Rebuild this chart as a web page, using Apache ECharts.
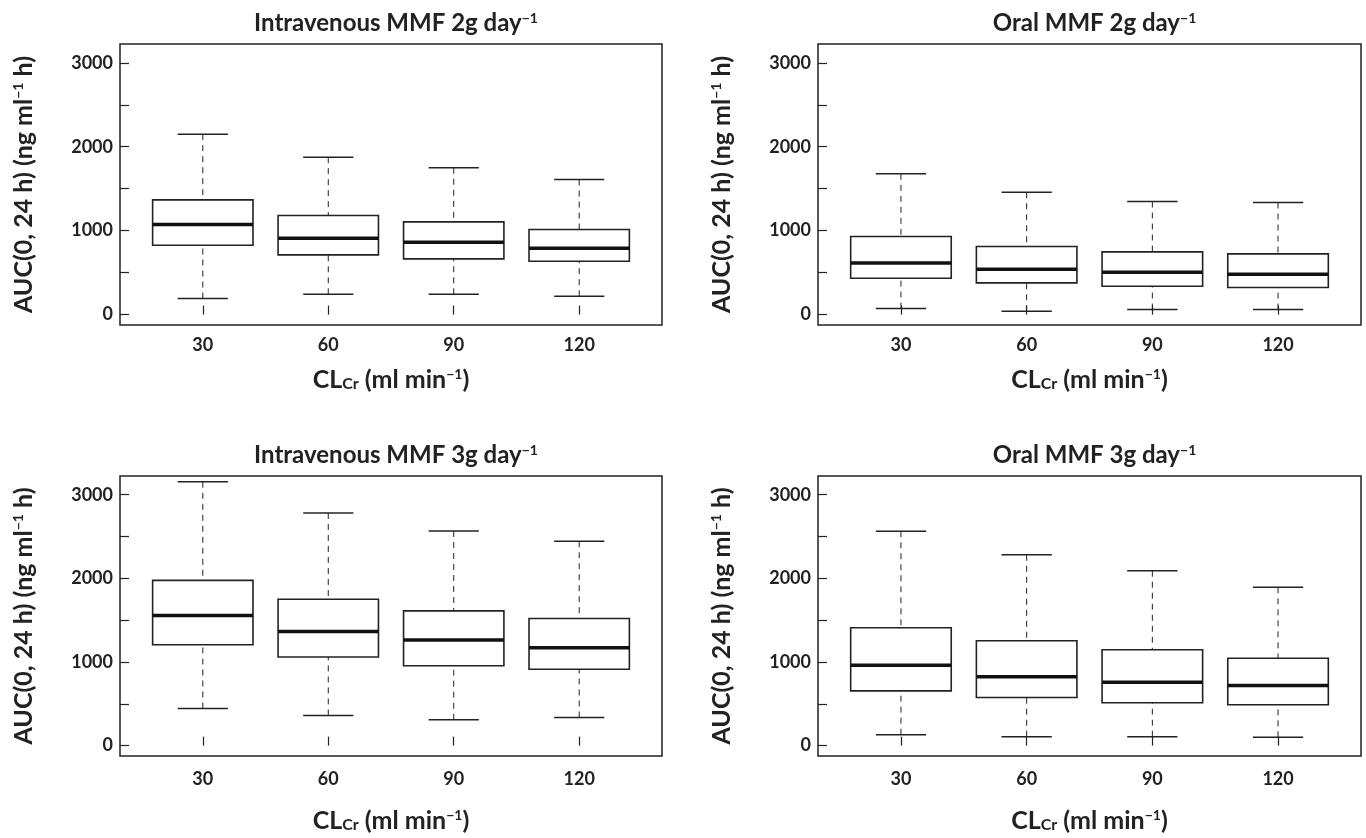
<!DOCTYPE html>
<html>
<head>
<meta charset="utf-8">
<script src="https://cdn.jsdelivr.net/npm/echarts@6/dist/echarts.min.js"></script>
<style>
  html, body { margin: 0; padding: 0; background: #fff; }
  #chart { width: 1366px; height: 838px; }
</style>
</head>
<body>
<div id="chart"></div>
<script>
// CLcr groups (ml/min)
var clcr = [30, 60, 90, 120];

// each row: [lower whisker, Q1, median, Q3, upper whisker]
var iv2g = [
  [191, 827, 1073, 1367, 2150],
  [242, 711, 910, 1180, 1876],
  [242, 664, 862, 1105, 1749],
  [219, 636, 791, 1013, 1609]
];
var oral2g = [
  [72, 433, 616, 930, 1677],
  [40, 378, 540, 811, 1458],
  [60, 338, 505, 747, 1347],
  [60, 322, 481, 723, 1335]
];
var iv3g = [
  [444, 1206, 1556, 1976, 3155],
  [361, 1059, 1365, 1750, 2782],
  [310, 956, 1262, 1611, 2567],
  [337, 913, 1171, 1520, 2444]
];
var oral3g = [
  [131, 655, 960, 1409, 2563],
  [107, 575, 825, 1254, 2282],
  [107, 512, 758, 1147, 2091],
  [99, 488, 718, 1044, 1893]
];

var yTicks = [0, 500, 1000, 1500, 2000, 2500, 3000];
var yLabels = [0, 1000, 2000, 3000];

var titles = [
  'Intravenous MMF 2g day{sup|−1}',
  'Oral MMF 2g day{sup|−1}',
  'Intravenous MMF 3g day{sup|−1}',
  'Oral MMF 3g day{sup|−1}'
];
var panels = [iv2g, oral2g, iv3g, oral3g];

var font = 'Lato';
var ink = '#222';

// panel frames (px)
var grids = [
  { left: 120, top: 44, width: 542, height: 281 },
  { left: 818, top: 44, width: 543, height: 281 },
  { left: 120, top: 476, width: 542, height: 280 },
  { left: 818, top: 476, width: 543, height: 280 }
];

var nameRich = {
  b: { fontFamily: font, fontWeight: 'bold', fontSize: 25, color: ink },
  sub: { fontFamily: font, fontWeight: 'bold', fontSize: 16, color: ink, verticalAlign: 'bottom', lineHeight: 16 },
  sup: { fontFamily: font, fontWeight: 'bold', fontSize: 14, color: ink, verticalAlign: 'top', lineHeight: 14 }
};

function renderBox(params, api) {
  var x = api.value(0);
  var pMin = api.coord([x, api.value(1)]);
  var pQ1 = api.coord([x, api.value(2)]);
  var pMed = api.coord([x, api.value(3)]);
  var pQ3 = api.coord([x, api.value(4)]);
  var pMax = api.coord([x, api.value(5)]);
  var bw = api.size([24, 0])[0];
  var cw = bw / 2;
  var cx = pMed[0];
  var dashed = { stroke: ink, lineWidth: 1, lineDash: [6, 5] };
  var solid = { stroke: ink, lineWidth: 1.5 };
  return {
    type: 'group',
    children: [
      { type: 'line', shape: { x1: cx, y1: pMax[1], x2: cx, y2: pQ3[1] }, style: dashed },
      { type: 'line', shape: { x1: cx, y1: pMin[1], x2: cx, y2: pQ1[1] }, style: dashed },
      { type: 'line', shape: { x1: cx - cw / 2, y1: pMax[1], x2: cx + cw / 2, y2: pMax[1] }, style: solid },
      { type: 'line', shape: { x1: cx - cw / 2, y1: pMin[1], x2: cx + cw / 2, y2: pMin[1] }, style: solid },
      { type: 'rect', shape: { x: cx - bw / 2, y: pQ3[1], width: bw, height: pQ1[1] - pQ3[1] },
        style: { fill: '#fff', stroke: ink, lineWidth: 1.6 } },
      { type: 'line', shape: { x1: cx - bw / 2, y1: pMed[1], x2: cx + bw / 2, y2: pMed[1] },
        style: { stroke: '#111', lineWidth: 3.5 } }
    ]
  };
}

var option = {
  animation: false,
  backgroundColor: '#fff',
  title: [],
  grid: [],
  xAxis: [],
  yAxis: [],
  series: []
};

panels.forEach(function (rows, i) {
  var g = grids[i];
  var bottomRow = i >= 2;
  option.title.push({
    text: titles[i],
    left: g.left + g.width / 2,
    top: g.top - 38,
    textAlign: 'center',
    textStyle: {
      fontFamily: font, fontWeight: 'bold', fontSize: 24, color: ink,
      rich: {
        sup: { fontFamily: font, fontWeight: 'bold', fontSize: 14, color: ink, verticalAlign: 'top', lineHeight: 14 }
      }
    }
  });
  option.grid.push({
    left: g.left, top: g.top, width: g.width, height: g.height,
    show: true, borderColor: ink, borderWidth: 1.5, backgroundColor: 'transparent',
    outerBoundsMode: 'none'
  });
  option.xAxis.push({
    type: 'value', gridIndex: i, min: 10.2, max: 139.8,
    splitLine: { show: false },
    axisLine: { show: false },
    axisTick: { inside: true, length: 9, customValues: clcr, lineStyle: { color: ink, width: 1.2 } },
    axisLabel: {
      customValues: clcr, margin: bottomRow ? 14 : 11,
      fontFamily: font, fontWeight: 'bold', fontSize: 18, color: ink,
      formatter: function (v) { return String(v); }
    },
    name: '{b|CL}{sub|Cr}{b| (ml min}{sup|−1}{b|)}',
    nameLocation: 'middle',
    nameGap: bottomRow ? 52 : 42,
    nameTextStyle: { rich: nameRich }
  });
  option.yAxis.push({
    type: 'value', gridIndex: i, min: -124, max: 3224,
    splitLine: { show: false },
    axisLine: { show: false },
    axisTick: { inside: true, length: 9, customValues: yTicks, lineStyle: { color: ink, width: 1.2 } },
    axisLabel: {
      customValues: yLabels, margin: 7,
      fontFamily: font, fontWeight: 'bold', fontSize: 18, color: ink,
      formatter: function (v) { return String(v); }
    },
    name: '{b|AUC(0, 24 h) (ng ml}{sup|−1}{b| h)}',
    nameLocation: 'middle',
    nameRotate: 90,
    nameGap: 84,
    nameTextStyle: { rich: nameRich }
  });
  option.series.push({
    type: 'custom',
    xAxisIndex: i,
    yAxisIndex: i,
    silent: true,
    renderItem: renderBox,
    encode: { x: 0, y: [1, 2, 3, 4, 5] },
    data: clcr.map(function (c, k) { return [c].concat(rows[k]); })
  });
});

var chart = echarts.init(document.getElementById('chart'));
chart.setOption(option);
</script>
</body>
</html>
